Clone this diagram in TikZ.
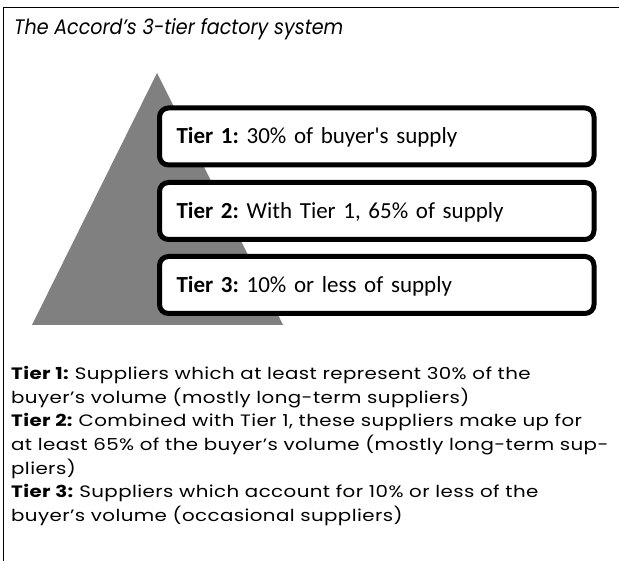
\documentclass[tikz,border=0pt]{standalone}
\usepackage{fontspec}
\setmainfont{Poppins}
\newfontfamily\titlefont{Poppins}[FakeStretch=0.91]
\newfontfamily\notefont{Poppins}[FakeStretch=1.2, LetterSpace=2.5]
\newfontfamily\boxfont{Carlito}[Ligatures=TeXOff]
\usetikzlibrary{positioning}
\frenchspacing

\begin{document}
\begin{tikzpicture}[x=1pt, y=-1pt,
	tier/.style={draw, fill=white, line width=5pt, rounded corners=9pt,
		minimum height=57pt, text width=400.5pt, inner xsep=17pt, inner ysep=0pt,
		text height=18pt, text depth=3pt,
		align=left, font=\boxfont\fontsize{23}{26}\selectfont}]
	\useasboundingbox (0,0) rectangle (619,561);
	\draw[line width=1.5pt] (3.3,561) -- (3.3,7.3) -- (619,7.3);
	
	\node[anchor=base west, inner sep=0pt, font=\titlefont\itshape\fontsize{21}{26}\selectfont] (title) at (14,35) {The Accord’s 3-tier factory system};
	
	\coordinate (top) at (157,73);
	\coordinate (bl) at (32,325);
	\coordinate (br) at (283,325);
	\fill[gray] (top) -- (br) -- (bl) -- cycle;
	
	\node[tier, anchor=north west] (t1) at (157,105.5) {\textbf{Tier 1:} 30\% of buyer's supply};
	\node[tier, below=12.5pt of t1] (t2) {\textbf{Tier 2:} With Tier 1, 65\% of supply};
	\node[tier, below=12pt of t2] (t3) {\textbf{Tier 3:} 10\% or less of supply};
	
	\node[anchor=north west, inner sep=0pt, align=left, font=\notefont\fontsize{16.5}{23.7}\selectfont] (notes) at (11,366) {%
		\textbf{Tier 1:} Suppliers which at least represent 30\% of the\\
		buyer’s volume (mostly long-term suppliers)\\
		\textbf{Tier 2:} Combined with Tier 1, these suppliers make up for\\
		at least 65\% of the buyer’s volume (mostly long-term sup-\\
		pliers)\\
		\textbf{Tier 3:} Suppliers which account for 10\% or less of the\\
		buyer’s volume (occasional suppliers)};
\end{tikzpicture}
\end{document}
